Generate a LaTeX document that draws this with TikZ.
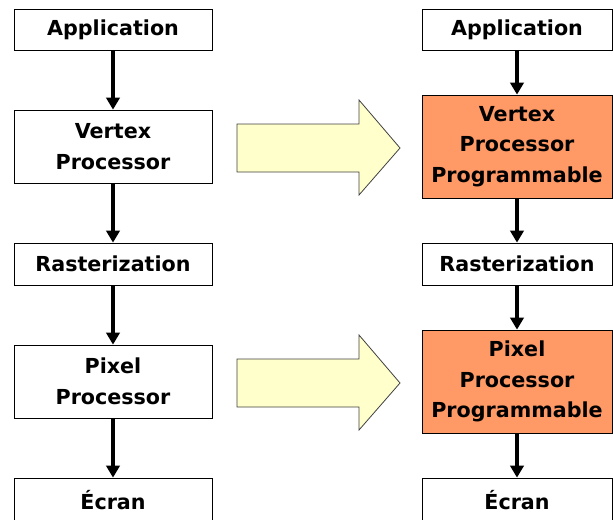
\documentclass[tikz,border=0pt]{standalone}
\usepackage{fontspec}
\setmainfont{DejaVu Sans}
\usepackage{tikz}
\usetikzlibrary{calc,arrows.meta}
\definecolor{progorange}{HTML}{FF9966}
\definecolor{paleyellow}{HTML}{FFFFCC}
\def\stagenode{\node[draw=black,line width=0.6pt,fill=white,align=center,inner sep=0pt,minimum width=148.5pt,font=\bfseries\fontsize{15.5}{23}\selectfont]}

\begin{document}
\begin{tikzpicture}[x=0.75pt,y=-0.75pt,
  flow/.style={-{Triangle[width=10pt,length=9pt]},line width=2.8pt},
  bigarrow/.style={draw=black!75,fill=paleyellow,line width=0.6pt,line join=miter},
  prog/.style={fill=progorange,minimum width=142.5pt,minimum height=77.25pt}]
\useasboundingbox (0,0) rectangle (613,519);
\stagenode[minimum height=30.75pt] (appl) at (113,29.5) {Application};
\stagenode[minimum height=54.75pt] (vpl) at (113,146.5) {Vertex\\Processor};
\stagenode[minimum height=31.5pt] (rasl) at (113,264) {Rasterization};
\stagenode[minimum height=54.75pt] (ppl) at (113,381.5) {Pixel\\Processor};
\stagenode[minimum height=33pt] (ecrl) at (113,500) {Écran};
\stagenode[minimum width=142.5pt,minimum height=30.75pt] (appr) at (517,29.5) {Application};
\stagenode[prog] (vpr) at (517,146.5) {Vertex\\Processor\\Programmable};
\stagenode[minimum width=142.5pt,minimum height=31.5pt] (rasr) at (517,264) {Rasterization};
\stagenode[prog] (ppr) at (517,381.5) {Pixel\\Processor\\Programmable};
\stagenode[minimum width=142.5pt,minimum height=33pt] (ecrr) at (517,500) {Écran};
\draw[flow] (appl) -- (vpl);
\draw[flow] (vpl) -- (rasl);
\draw[flow] (rasl) -- (ppl);
\draw[flow] (ppl) -- (ecrl);
\draw[flow] (appr) -- (vpr);
\draw[flow] (vpr) -- (rasr);
\draw[flow] (rasr) -- (ppr);
\draw[flow] (ppr) -- (ecrr);
\foreach \ny in {148,383}
  \draw[bigarrow] (237,{\ny-24}) -- (359,{\ny-24}) -- (359,{\ny-48}) -- (400,\ny)
    -- (359,{\ny+47}) -- (359,{\ny+24}) -- (237,{\ny+24}) -- cycle;
\end{tikzpicture}
\end{document}
